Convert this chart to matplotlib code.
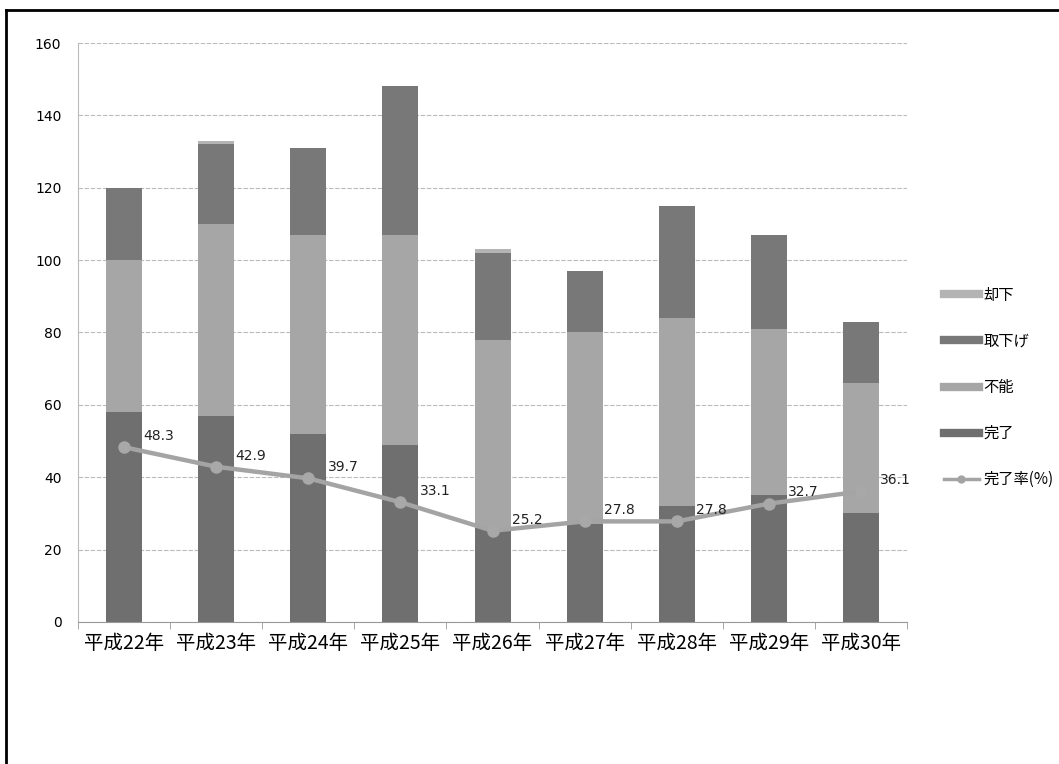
import matplotlib
matplotlib.use("Agg")
import matplotlib.pyplot as plt
from matplotlib.lines import Line2D
import numpy as np

plt.rcParams['font.family'] = ['Noto Sans CJK JP', 'DejaVu Sans']

years = ['平成22年', '平成23年', '平成24年', '平成25年', '平成26年',
         '平成27年', '平成28年', '平成29年', '平成30年']
kanryo = [58, 57, 52, 49, 26, 27, 32, 35, 30]       # 完了
funo = [42, 53, 55, 58, 52, 53, 52, 46, 36]         # 不能
torisage = [20, 22, 24, 41, 24, 17, 31, 26, 17]     # 取下げ
kyakka = [0, 1, 0, 0, 1, 0, 0, 0, 0]                # 却下
rate = [48.3, 42.9, 39.7, 33.1, 25.2, 27.8, 27.8, 32.7, 36.1]  # 完了率(%)

fig = plt.figure(figsize=(10.59, 7.64), dpi=100)
ax = fig.add_axes([0.0737, 0.1859, 0.7828, 0.7578])

x = np.arange(len(years))
w = 0.39
b1 = np.array(kanryo)
b2 = b1 + np.array(funo)
b3 = b2 + np.array(torisage)

p_kan = ax.bar(x, kanryo, w, color='#6f6f6f', zorder=2)
p_fun = ax.bar(x, funo, w, bottom=b1, color='#a6a6a6', zorder=2)
p_tor = ax.bar(x, torisage, w, bottom=b2, color='#787878', zorder=2)
p_kya = ax.bar(x, kyakka, w, bottom=b3, color='#b4b4b4', zorder=2)

ln, = ax.plot(x, rate, color='#a4a4a4', lw=3.2, marker='o', ms=8,
              mfc='#a8a8a8', mec='#a8a8a8', zorder=3)
for i, r in enumerate(rate):
    ax.annotate(f'{r:.1f}', (x[i], r), xytext=(14, 3), textcoords='offset points',
                fontsize=10, color='#222222', va='bottom', ha='left',
                family=['DejaVu Sans'])

ax.set_xlim(-0.5, len(years) - 0.5)
ax.set_ylim(0, 160)
ax.set_yticks(np.arange(0, 161, 20))
ax.set_xticks(x)
ax.set_xticklabels(years, fontsize=14)
ax.set_xticks(np.arange(-0.5, len(years)), minor=True)
ax.tick_params(axis='x', which='major', length=0, pad=8)
ax.tick_params(axis='x', which='minor', length=5, color='#999999')
ax.tick_params(axis='y', length=0, labelsize=10, pad=12)
for t in ax.get_yticklabels():
    t.set_family(['DejaVu Sans'])
ax.grid(axis='y', color='#bbbbbb', lw=0.8, ls=(0, (4, 1.5)), zorder=0)
for s in ['top', 'right']:
    ax.spines[s].set_visible(False)
ax.spines['left'].set_color('#bbbbbb')
ax.spines['bottom'].set_color('#999999')

handles = [Line2D([], [], color='#b4b4b4', lw=6),
           Line2D([], [], color='#787878', lw=6),
           Line2D([], [], color='#a6a6a6', lw=6),
           Line2D([], [], color='#6f6f6f', lw=6),
           Line2D([], [], color='#a4a4a4', lw=2.5, marker='o', ms=5)]
labels = ['却下', '取下げ', '不能', '完了', '完了率(%)']
fig.legend(handles, labels, loc='center left', bbox_to_anchor=(0.878, 0.493),
           frameon=False, fontsize=11, handlelength=2.3, handletextpad=0.3,
           labelspacing=1.9)

# outer frame (top and left edges visible in the scan)
fig.add_artist(Line2D([0.006, 1.0], [0.987, 0.987], color='black', lw=2,
                      transform=fig.transFigure))
fig.add_artist(Line2D([0.006, 0.006], [0.0, 0.987], color='black', lw=2,
                      transform=fig.transFigure))

fig.savefig('out.png', dpi=100)
